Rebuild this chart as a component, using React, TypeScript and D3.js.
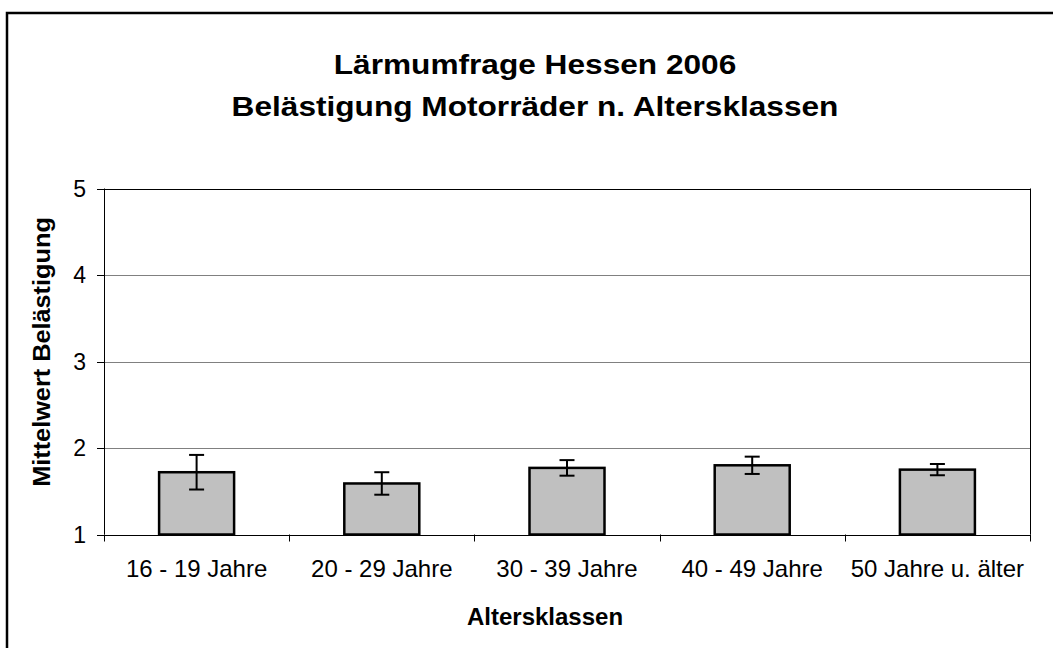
import React from "react";
import * as d3 from "d3";

const categories = ["16 - 19 Jahre", "20 - 29 Jahre", "30 - 39 Jahre", "40 - 49 Jahre", "50 Jahre u. älter"];
const means = [1.72, 1.59, 1.77, 1.8, 1.75];
const errors = [0.2, 0.13, 0.09, 0.1, 0.065];
const yTicks = [1, 2, 3, 4, 5];
const titleLines = ["Lärmumfrage Hessen 2006", "Belästigung Motorräder n. Altersklassen"];
const xTitle = "Altersklassen";
const yTitle = "Mittelwert Belästigung";

const W = 1053;
const H = 648;
const plot = { left: 104, right: 1030, top: 188.5, bottom: 534.5 };
const font = "'Liberation Sans', Arial, Helvetica, sans-serif";

export default function App() {
  const x = d3.scaleBand<string>().domain(categories).range([plot.left, plot.right]).paddingInner(0).paddingOuter(0);
  const y = d3.scaleLinear().domain([1, 5]).range([plot.bottom, plot.top]);
  const bw = 75;
  const cap = 7.5;
  const boundaries = d3.range(categories.length + 1).map((i) => plot.left + i * x.step());

  return (
    <svg width={W} height={H} style={{ position: "absolute", left: 0, top: 0, background: "#fff" }} fontFamily={font}>
      <rect x={0} y={0} width={W} height={H} fill="#fff" />
      <rect x={7} y={13} width={1056} height={660} fill="none" stroke="#000" strokeWidth={2.5} />
      {titleLines.map((t, i) => (
        <text key={t} transform={`translate(535, ${74 + i * 41.5}) scale(1.13, 1)`} textAnchor="middle" fontSize={28} fontWeight="bold" fill="#000">
          {t}
        </text>
      ))}
      {/* gridlines */}
      {yTicks.filter((v) => v > 1 && v < 5).map((v) => (
        <line key={v} x1={plot.left} x2={plot.right} y1={Math.round(y(v)) + 0.5} y2={Math.round(y(v)) + 0.5} stroke="#808080" strokeWidth={1} />
      ))}
      {/* plot border */}
      <line x1={plot.left} x2={plot.right} y1={Math.round(y(5)) + 0.5} y2={Math.round(y(5)) + 0.5} stroke="#000" strokeWidth={1} />
      <line x1={plot.right + 0.5} x2={plot.right + 0.5} y1={y(5)} y2={plot.bottom} stroke="#000" strokeWidth={1} />
      {/* y axis */}
      <line x1={plot.left + 0.5} x2={plot.left + 0.5} y1={y(5)} y2={plot.bottom} stroke="#000" strokeWidth={1} />
      {yTicks.map((v) => (
        <g key={v}>
          <line x1={plot.left - 7} x2={plot.left} y1={Math.round(y(v)) + 0.5} y2={Math.round(y(v)) + 0.5} stroke="#000" strokeWidth={1} />
          <text x={86} y={y(v)} dy="0.36em" textAnchor="end" fontSize={23} fill="#000">
            {v}
          </text>
        </g>
      ))}
      {/* x axis */}
      <line x1={plot.left} x2={plot.right} y1={Math.round(plot.bottom) + 0.5} y2={Math.round(plot.bottom) + 0.5} stroke="#000" strokeWidth={1} />
      {boundaries.map((bx, i) => (
        <line key={i} x1={Math.round(bx) + 0.5} x2={Math.round(bx) + 0.5} y1={plot.bottom} y2={plot.bottom + 7} stroke="#000" strokeWidth={1} />
      ))}
      {categories.map((c) => (
        <text key={c} x={(x(c) as number) + x.bandwidth() / 2} y={576.5} textAnchor="middle" fontSize={24} fill="#000">
          {c}
        </text>
      ))}
      {/* bars */}
      {categories.map((c, i) => {
        const cx = (x(c) as number) + x.bandwidth() / 2;
        return (
          <g key={c}>
            <rect x={cx - bw / 2} y={y(means[i])} width={bw} height={plot.bottom - y(means[i])} fill="#c0c0c0" stroke="#000" strokeWidth={2.5} />
            <line x1={cx} x2={cx} y1={y(means[i] + errors[i])} y2={y(means[i] - errors[i])} stroke="#000" strokeWidth={2} />
            <line x1={cx - cap} x2={cx + cap} y1={y(means[i] + errors[i])} y2={y(means[i] + errors[i])} stroke="#000" strokeWidth={2} />
            <line x1={cx - cap} x2={cx + cap} y1={y(means[i] - errors[i])} y2={y(means[i] - errors[i])} stroke="#000" strokeWidth={2} />
          </g>
        );
      })}
      <text x={545} y={624.5} textAnchor="middle" fontSize={24} fontWeight="bold" fill="#000">
        {xTitle}
      </text>
      <text transform={`translate(50, 352) rotate(-90) scale(1.1, 1)`} textAnchor="middle" fontSize={23} fontWeight="bold" fill="#000">
        {yTitle}
      </text>
    </svg>
  );
}
